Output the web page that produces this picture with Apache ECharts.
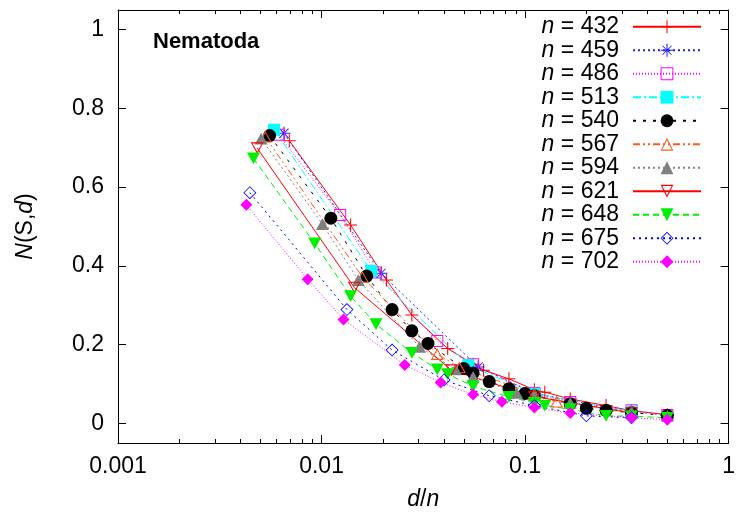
<!DOCTYPE html>
<html>
<head>
<meta charset="utf-8">
<script src="https://cdn.jsdelivr.net/npm/echarts@6/dist/echarts.min.js"></script>
<style>html,body{margin:0;padding:0;background:#fff;}#c{width:738px;height:518px;}</style>
</head>
<body>
<div id="c"></div>
<script>
// ---- data: segment sizes d and N(S,d) for each sequence length n ----
const nValues = [432, 459, 486, 513, 540, 567, 594, 621, 648, 675, 702];

const d432 = [3, 6, 9, 12, 18, 24, 27, 36, 48, 54, 72, 108, 144, 216];
const y432 = [0.718, 0.504, 0.364, 0.275, 0.190, 0.150, 0.135, 0.113, 0.085, 0.079, 0.062, 0.045, 0.032, 0.022];

const d459 = [3, 9, 27, 51, 153];
const y459 = [0.737, 0.381, 0.143, 0.076, 0.029];

const d486 = [3, 6, 9, 18, 27, 54, 81, 162, 243];
const y486 = [0.733, 0.529, 0.383, 0.209, 0.150, 0.077, 0.054, 0.033, 0.021];

const d513 = [3, 9, 27, 57, 171];
const y513 = [0.746, 0.387, 0.148, 0.075, 0.030];

const d540 = [3, 6, 9, 12, 15, 18, 27, 30, 36, 45, 54, 60, 90, 108, 135, 180, 270];
const y540 = [0.731, 0.521, 0.374, 0.289, 0.235, 0.203, 0.139, 0.128, 0.106, 0.088, 0.076, 0.070, 0.050, 0.038, 0.033, 0.027, 0.020];

const d567 = [3, 9, 21, 27, 63, 81, 189];
const y567 = [0.728, 0.372, 0.176, 0.142, 0.075, 0.055, 0.028];

const d594 = [3, 6, 9, 18, 27, 33, 54, 66, 99, 198, 297];
const y594 = [0.723, 0.506, 0.364, 0.194, 0.137, 0.118, 0.077, 0.071, 0.052, 0.030, 0.019];

const d621 = [3, 9, 27, 69, 207];
const y621 = [0.699, 0.345, 0.135, 0.068, 0.026];

const d648 = [3, 6, 9, 12, 18, 24, 27, 36, 54, 72, 81, 108, 162, 216, 324];
const y648 = [0.673, 0.457, 0.323, 0.252, 0.179, 0.137, 0.125, 0.094, 0.067, 0.052, 0.045, 0.036, 0.019, 0.018, 0.014];

const d675 = [3, 9, 15, 27, 45, 75, 135, 225];
const y675 = [0.586, 0.289, 0.186, 0.110, 0.070, 0.045, 0.019, 0.014];

const d702 = [3, 6, 9, 18, 27, 39, 54, 78, 117, 234, 351];
const y702 = [0.555, 0.366, 0.264, 0.148, 0.104, 0.073, 0.055, 0.040, 0.026, 0.0145, 0.009];

const xMajorTicks = [0.001, 0.01, 0.1, 1];
const xMinorTicks = [0.002,0.003,0.004,0.005,0.006,0.007,0.008,0.009,
                     0.02,0.03,0.04,0.05,0.06,0.07,0.08,0.09,
                     0.2,0.3,0.4,0.5,0.6,0.7,0.8,0.9];
const yTicks = [0, 0.2, 0.4, 0.6, 0.8, 1];
const chartTitle = 'Nematoda';

// ---- styles ----
const FONT = '"Liberation Sans", Arial, Helvetica, sans-serif';
const SYM = {
  plus: 'path://M-0.8,-10 L0.8,-10 L0.8,10 L-0.8,10 Z M-10,-0.8 L10,-0.8 L10,0.8 L-10,0.8 Z',
  star: 'path://M-0.8,-10 L0.8,-10 L0.8,10 L-0.8,10 Z M-10,-0.8 L10,-0.8 L10,0.8 L-10,0.8 Z ' +
        'M-6.57,-7.57 L7.57,6.57 L6.57,7.57 L-7.57,-6.57 Z M7.57,-6.57 L-6.57,7.57 L-7.57,6.57 L6.57,-7.57 Z',
  openSquare: 'path://M-10,-10 L10,-10 L10,10 L-10,10 Z M-8.4,-8.4 L-8.4,8.4 L8.4,8.4 L8.4,-8.4 Z',
  square: 'path://M-10,-10 L10,-10 L10,10 L-10,10 Z',
  openTri: 'path://M0,-10 L10,8 L-10,8 Z M0,-6.6 L-7.3,6.3 L7.3,6.3 Z',
  tri: 'path://M0,-10 L10,8 L-10,8 Z',
  openTriDown: 'path://M0,10 L-10,-8 L10,-8 Z M0,6.6 L7.3,-6.3 L-7.3,-6.3 Z',
  triDown: 'path://M0,10 L-10,-8 L10,-8 Z',
  openDiamond: 'path://M0,-10 L10,0 L0,10 L-10,0 Z M0,-8.3 L-8.3,0 L0,8.3 L8.3,0 Z',
  diamond: 'path://M0,-10 L10,0 L0,10 L-10,0 Z',
  circle: 'circle'
};

const seriesDefs = [
  {n: 432, d: d432, y: y432, color: '#ff0000', dash: 'solid', sym: SYM.plus, size: 13},
  {n: 459, d: d459, y: y459, color: '#2020ff', dash: [2, 3], sym: SYM.star, size: 13},
  {n: 486, d: d486, y: y486, color: '#ff00ff', dash: [1, 2], sym: SYM.openSquare, size: 12},
  {n: 513, d: d513, y: y513, color: '#00ffff', dash: [8, 3, 2, 3], sym: SYM.square, size: 12},
  {n: 540, d: d540, y: y540, color: '#000000', dash: [3, 7], sym: SYM.circle, size: 13},
  {n: 567, d: d567, y: y567, color: '#ff5a1a', dash: [7, 3, 2, 3, 2, 3], sym: SYM.openTri, size: 13},
  {n: 594, d: d594, y: y594, color: '#808080', dash: [2, 3], sym: SYM.tri, size: 13},
  {n: 621, d: d621, y: y621, color: '#ff0000', dash: 'solid', sym: SYM.openTriDown, size: 13},
  {n: 648, d: d648, y: y648, color: '#00ee00', dash: [6, 4], sym: SYM.triDown, size: 13},
  {n: 675, d: d675, y: y675, color: '#0000ff', dash: [2, 4], sym: SYM.openDiamond, size: 13},
  {n: 702, d: d702, y: y702, color: '#ff00ff', dash: [1, 2], sym: SYM.diamond, size: 12}
];

const series = seriesDefs.map(s => ({
  name: 'n = ' + s.n,
  type: 'line',
  xAxisIndex: 0,
  yAxisIndex: 0,
  data: s.d.map((d, i) => [d / s.n, s.y[i]]),
  symbol: s.sym,
  symbolSize: s.size,
  symbolKeepAspect: true,
  showAllSymbol: true,
  lineStyle: {color: s.color, width: 1, type: s.dash},
  itemStyle: {color: s.color, borderWidth: 0},
  emphasis: {disabled: true},
  animation: false
}));

const tickStyle = {color: '#000', width: 1};
const labelFont = {fontFamily: FONT, fontSize: 23, color: '#000'};

function logAxis(pos, showLine, ticks, len, label) {
  return {
    type: 'log', logBase: 10, min: 0.001, max: 1, position: pos,
    axisLine: {show: showLine, onZero: false, lineStyle: {color: '#000', width: 1}},
    axisTick: {show: true, inside: true, length: len, lineStyle: tickStyle, customValues: ticks},
    axisLabel: label || {show: false},
    splitLine: {show: false},
    minorTick: {show: false}
  };
}

const xBottom = logAxis('bottom', true, xMajorTicks, 8,
  Object.assign({margin: 12, customValues: xMajorTicks,
    formatter: v => String(+(+v).toPrecision(1))}, labelFont));
xBottom.name = '{i|d}/{i|n}';
xBottom.nameLocation = 'middle';
xBottom.nameGap = 45;
xBottom.nameTextStyle = {fontFamily: FONT, fontSize: 23, color: '#000',
  rich: {i: {fontFamily: FONT, fontSize: 23, fontStyle: 'italic', color: '#000'}}};

const option = {
  animation: false,
  backgroundColor: '#fff',
  grid: {left: 118, right: 5, top: 10, bottom: 75, containLabel: false},
  graphic: [{
    type: 'text', left: 153, top: 31,
    style: {text: chartTitle, font: 'bold 22px ' + FONT, fill: '#000'}
  }],
  legend: {
    data: seriesDefs.map(s => 'n = ' + s.n),
    orient: 'vertical',
    right: 36,
    top: 15,
    padding: 0,
    align: 'right',
    itemWidth: 68,
    itemHeight: 16,
    itemGap: 0,
    formatter: name => '{i|n}' + name.slice(1) + '{s|}',
    textStyle: {
      fontFamily: FONT, fontSize: 23, color: '#000', lineHeight: 23.5,
      rich: {
        i: {fontFamily: FONT, fontSize: 23, fontStyle: 'italic', color: '#000', lineHeight: 23.5},
        s: {width: 9, lineHeight: 23.5}
      }
    },
    selectedMode: false
  },
  xAxis: [
    xBottom,
    logAxis('bottom', false, xMinorTicks, 4),
    logAxis('top', true, xMajorTicks, 8),
    logAxis('top', false, xMinorTicks, 4)
  ],
  yAxis: [
    {
      type: 'value', min: -0.05, max: 1.05, position: 'left',
      axisLine: {show: true, onZero: false, lineStyle: {color: '#000', width: 1}},
      axisTick: {show: true, inside: true, length: 8, lineStyle: tickStyle, customValues: yTicks},
      axisLabel: Object.assign({margin: 14, customValues: yTicks,
        formatter: v => String(+(+v).toFixed(1))}, labelFont),
      splitLine: {show: false},
      name: '{i|N}(S,{i|d})',
      nameLocation: 'middle',
      nameGap: 81,
      nameRotate: 90,
      nameTextStyle: {fontFamily: FONT, fontSize: 23, color: '#000',
        rich: {i: {fontFamily: FONT, fontSize: 23, fontStyle: 'italic', color: '#000'}}}
    },
    {
      type: 'value', min: -0.05, max: 1.05, position: 'right',
      axisLine: {show: true, onZero: false, lineStyle: {color: '#000', width: 1}},
      axisTick: {show: true, inside: true, length: 8, lineStyle: tickStyle, customValues: yTicks},
      axisLabel: {show: false},
      splitLine: {show: false}
    }
  ],
  series: series
};

const chart = echarts.init(document.getElementById('c'), null, {renderer: 'canvas'});
chart.setOption(option);
</script>
</body>
</html>
